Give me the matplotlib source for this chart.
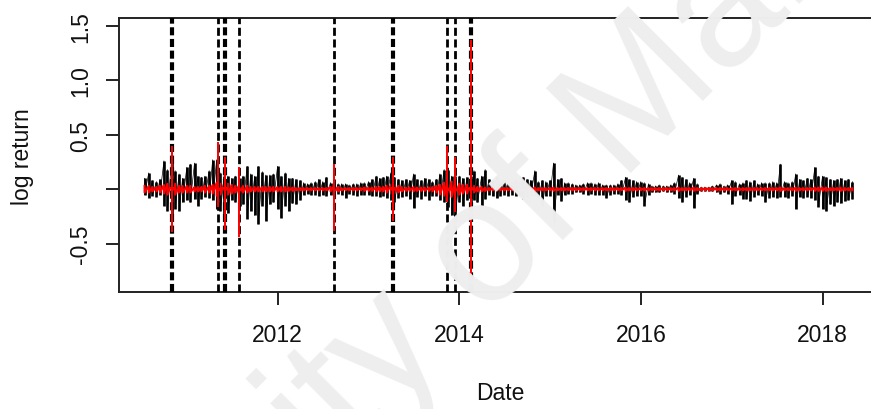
import numpy as np
import pandas as pd
import matplotlib
matplotlib.use("Agg")
import matplotlib.pyplot as plt

# ---------------- data ----------------
# semi-monthly bins of the daily log-return series: upper / lower extent per bin
bin_start = "2010-07-15"
bin_end = "2018-05-01"

blk_hi = [
    0.10, 0.15, 0.08, 0.07, 0.09, 0.26, 0.18, 0.27, 0.17, 0.14, 0.10,
    0.20, 0.23, 0.24, 0.12, 0.11, 0.12, 0.17, 0.27, 0.27, 0.15, 0.12, 0.12,
    0.10, 0.12, 0.10, 0.12, 0.21, 0.14, 0.12, 0.21, 0.16, 0.13, 0.13, 0.14,
    0.21, 0.12, 0.15, 0.10, 0.10, 0.09, 0.08, 0.06, 0.05, 0.06, 0.07, 0.09,
    0.07, 0.11, 0.06, 0.06, 0.05, 0.05, 0.05, 0.04, 0.05, 0.05, 0.06, 0.06,
    0.07, 0.09, 0.12, 0.10, 0.11, 0.12, 0.15, 0.11, 0.09, 0.08, 0.09, 0.08,
    0.14, 0.09, 0.08, 0.10, 0.09, 0.07, 0.09, 0.14, 0.18, 0.18, 0.12, 0.12,
    0.12, 0.10, 0.11, 0.12, 0.17, 0.10, 0.12, 0.18, 0.09, 0.08, 0.11, 0.07,
    0.08, 0.06, 0.07, 0.08, 0.07, 0.11, 0.09, 0.08, 0.17, 0.07, 0.08, 0.07,
    0.08, 0.24, 0.09, 0.10, 0.06, 0.06, 0.05, 0.04, 0.04, 0.05, 0.06, 0.06,
    0.05, 0.06, 0.04, 0.04, 0.04, 0.04, 0.05, 0.08, 0.11, 0.09, 0.08, 0.07,
    0.07, 0.06, 0.05, 0.03, 0.03, 0.04, 0.03, 0.03, 0.04, 0.06, 0.13, 0.11,
    0.09, 0.06, 0.10, 0.05, 0.02, 0.02, 0.02, 0.03, 0.04, 0.05, 0.03, 0.04,
    0.08, 0.07, 0.05, 0.06, 0.08, 0.07, 0.08, 0.05, 0.06, 0.06, 0.06, 0.07,
    0.06, 0.23, 0.07, 0.06, 0.07, 0.14, 0.09, 0.08, 0.10, 0.09, 0.20, 0.12,
    0.12, 0.11, 0.09, 0.08, 0.09, 0.10, 0.08, 0.09, 0.07,
]
blk_lo = [
    -0.05, -0.08, -0.06, -0.07, -0.05, -0.15, -0.20, -0.27, -0.18, -0.20, -0.12,
    -0.10, -0.12, -0.09, -0.15, -0.09, -0.07, -0.08, -0.10, -0.18, -0.20, -0.27, -0.22,
    -0.10, -0.12, -0.15, -0.14, -0.27, -0.20, -0.24, -0.32, -0.15, -0.29, -0.14, -0.12,
    -0.18, -0.26, -0.15, -0.20, -0.13, -0.14, -0.10, -0.05, -0.04, -0.05, -0.05, -0.06,
    -0.05, -0.06, -0.05, -0.05, -0.04, -0.05, -0.08, -0.04, -0.05, -0.06, -0.05, -0.05,
    -0.05, -0.06, -0.06, -0.07, -0.06, -0.08, -0.10, -0.12, -0.08, -0.07, -0.06, -0.09,
    -0.17, -0.07, -0.09, -0.06, -0.10, -0.06, -0.06, -0.10, -0.12, -0.16, -0.24, -0.27,
    -0.12, -0.15, -0.10, -0.20, -0.10, -0.12, -0.15, -0.09, -0.05, -0.06, -0.08, -0.06,
    -0.05, -0.06, -0.05, -0.06, -0.05, -0.09, -0.07, -0.06, -0.06, -0.08, -0.15, -0.06,
    -0.06, -0.30, -0.05, -0.11, -0.05, -0.04, -0.04, -0.03, -0.03, -0.04, -0.05, -0.04,
    -0.05, -0.05, -0.05, -0.08, -0.05, -0.04, -0.04, -0.05, -0.10, -0.12, -0.07, -0.06,
    -0.06, -0.15, -0.05, -0.03, -0.03, -0.03, -0.02, -0.03, -0.03, -0.04, -0.08, -0.12,
    -0.07, -0.05, -0.17, -0.04, -0.02, -0.02, -0.02, -0.02, -0.03, -0.04, -0.03, -0.04,
    -0.14, -0.06, -0.05, -0.09, -0.09, -0.11, -0.07, -0.05, -0.06, -0.12, -0.08, -0.07,
    -0.08, -0.07, -0.07, -0.08, -0.06, -0.18, -0.07, -0.08, -0.07, -0.08, -0.10, -0.16,
    -0.18, -0.20, -0.14, -0.15, -0.12, -0.13, -0.11, -0.10, -0.09,
]

# fitted (red) series: extent per bin
red_hi = [
    0.03, 0.03, 0.02, 0.02, 0.03, 0.04, 0.05, 0.06, 0.05, 0.03, 0.03,
    0.03, 0.03, 0.02, 0.02, 0.02, 0.03, 0.03, 0.04, 0.06, 0.05, 0.06, 0.05,
    0.04, 0.03, 0.04, 0.03, 0.03, 0.02, 0.02, 0.02, 0.02, 0.02, 0.02, 0.02,
    0.02, 0.02, 0.02, 0.015, 0.015, 0.01, 0.01, 0.01, 0.01, 0.01, 0.01, 0.01,
    0.01, 0.01, 0.02, 0.03, 0.02, 0.01, 0.01, 0.01, 0.01, 0.01, 0.01, 0.015,
    0.015, 0.015, 0.02, 0.02, 0.02, 0.03, 0.04, 0.04, 0.03, 0.02, 0.015, 0.015,
    0.02, 0.015, 0.015, 0.015, 0.015, 0.02, 0.03, 0.04, 0.06, 0.07, 0.07, 0.06,
    0.05, 0.04, 0.04, 0.04, 0.03, 0.02, 0.02, 0.015, 0.01, 0.01, 0.01, 0.01,
    0.01, 0.01, 0.01, 0.01, 0.01, 0.01, 0.01, 0.01, 0.015, 0.01, 0.01, 0.01,
    0.01, 0.015, 0.01, 0.01, 0.01, 0.01, 0.01, 0.01, 0.01, 0.01, 0.01, 0.01,
    0.01, 0.01, 0.01, 0.01, 0.01, 0.01, 0.01, 0.01, 0.015, 0.01, 0.01, 0.01,
    0.01, 0.01, 0.01, 0.01, 0.01, 0.01, 0.01, 0.01, 0.01, 0.01, 0.015, 0.01,
    0.01, 0.01, 0.015, 0.01, 0.01, 0.01, 0.01, 0.01, 0.01, 0.01, 0.01, 0.01,
    0.01, 0.01, 0.01, 0.01, 0.01, 0.01, 0.01, 0.01, 0.01, 0.01, 0.01, 0.01,
    0.01, 0.015, 0.01, 0.01, 0.01, 0.015, 0.01, 0.01, 0.01, 0.01, 0.015, 0.015,
    0.015, 0.015, 0.01, 0.01, 0.01, 0.015, 0.01, 0.01, 0.01,
]
red_lo = [
    -0.03, -0.03, -0.02, -0.02, -0.03, -0.04, -0.05, -0.06, -0.05, -0.03, -0.03,
    -0.03, -0.03, -0.02, -0.02, -0.02, -0.03, -0.03, -0.04, -0.06, -0.05, -0.06, -0.05,
    -0.04, -0.03, -0.04, -0.03, -0.03, -0.02, -0.02, -0.02, -0.02, -0.02, -0.02, -0.02,
    -0.02, -0.02, -0.02, -0.015, -0.015, -0.01, -0.01, -0.01, -0.01, -0.01, -0.01, -0.01,
    -0.01, -0.01, -0.02, -0.03, -0.02, -0.01, -0.01, -0.01, -0.01, -0.01, -0.01, -0.015,
    -0.015, -0.015, -0.02, -0.02, -0.02, -0.03, -0.04, -0.04, -0.03, -0.02, -0.015, -0.015,
    -0.02, -0.015, -0.015, -0.015, -0.015, -0.02, -0.03, -0.05, -0.06, -0.07, -0.07, -0.06,
    -0.05, -0.04, -0.04, -0.04, -0.03, -0.02, -0.02, -0.015, -0.01, -0.01, -0.01, -0.01,
    -0.01, -0.01, -0.01, -0.01, -0.01, -0.01, -0.01, -0.01, -0.015, -0.01, -0.01, -0.01,
    -0.01, -0.015, -0.01, -0.01, -0.01, -0.01, -0.01, -0.01, -0.01, -0.01, -0.01, -0.01,
    -0.01, -0.01, -0.01, -0.01, -0.01, -0.01, -0.01, -0.01, -0.015, -0.01, -0.01, -0.01,
    -0.01, -0.01, -0.01, -0.01, -0.01, -0.01, -0.01, -0.01, -0.01, -0.01, -0.015, -0.01,
    -0.01, -0.01, -0.015, -0.01, -0.01, -0.01, -0.01, -0.01, -0.01, -0.01, -0.01, -0.01,
    -0.01, -0.01, -0.01, -0.01, -0.01, -0.01, -0.01, -0.01, -0.01, -0.01, -0.01, -0.01,
    -0.01, -0.015, -0.01, -0.01, -0.01, -0.015, -0.01, -0.01, -0.01, -0.01, -0.015, -0.015,
    -0.015, -0.015, -0.01, -0.01, -0.01, -0.015, -0.01, -0.01, -0.01,
]

# detected change points and the red spikes at them
cp_dates = ["2010-11-01", "2011-05-08", "2011-06-04", "2011-07-30", "2012-08-13",
            "2013-04-10", "2013-11-13", "2013-12-13", "2014-02-18"]
cp_hi = [0.40, 0.43, 0.30, 0.20, 0.23, 0.30, 0.40, 0.30, 1.37]
cp_lo = [-0.39, -0.16, -0.37, -0.44, -0.38, -0.29, -0.12, -0.21, -0.85]

x_ticks = ["2012-01-01", "2014-01-01", "2016-01-01", "2018-01-01"]
x_ticklabels = ["2012", "2014", "2016", "2018"]
y_ticks = [-0.5, 0.0, 0.5, 1.0, 1.5]
y_ticklabels = ["-0.5", "", "0.5", "1.0", "1.5"]

# ---------------- styling ----------------
plt.rcParams["font.family"] = ["Liberation Sans", "DejaVu Sans"]
W, H = 871, 410
fig = plt.figure(figsize=(W / 100, H / 100), dpi=100)
fig.patch.set_facecolor("white")

# watermark (faint, behind everything)
fig.text(432 / W, 1 - 308 / H, "University of Malaya", rotation=45,
         fontsize=125, color="#eeeeee", ha="center", va="center",
         rotation_mode="anchor", zorder=0)

left, right, top, bottom = 118.7, 880.0, 19.0, 293.3
ax = fig.add_axes([left / W, (H - bottom) / H, (right - left) / W, (bottom - top) / H])
ax.patch.set_alpha(0)

dates = pd.date_range(bin_start, bin_end, freq="SMS")
ax.vlines(dates, blk_lo, blk_hi, color="black", lw=1.9, zorder=2)
ax.plot(np.repeat(dates.values, 2), np.column_stack([blk_hi, blk_lo]).ravel(),
        color="black", lw=0.5, zorder=2)
ax.plot(np.repeat(dates.values, 2), np.column_stack([red_hi, red_lo]).ravel(),
        color="red", lw=1.5, zorder=3)

cp = pd.to_datetime(cp_dates)
cp_lw = [3.0, 2.0, 3.0, 2.0, 2.0, 3.0, 2.0, 2.0, 3.0]
for d, w in zip(cp, cp_lw):
    ax.axvline(d, color="black", lw=w, linestyle=(0, (5.8 / w, 2.6 / w)),
               dash_capstyle="butt", zorder=4)
ax.vlines(cp, cp_lo, cp_hi, color="red", lw=1.4, zorder=5)

ax.set_xlim(pd.Timestamp("2010-04-02"), pd.Timestamp("2018-08-20"))
ax.set_ylim(-0.946, 1.571)

ax.set_xticks(pd.to_datetime(x_ticks))
ax.set_xticklabels(x_ticklabels)
ax.set_yticks(y_ticks)
ax.set_yticklabels(y_ticklabels)
ax.tick_params(axis="both", direction="out", length=9.6, width=1.3,
               labelsize=16.5, colors="#111111")
ax.tick_params(axis="x", pad=12.5)
ax.tick_params(axis="y", pad=9.4)
for lab in ax.get_yticklabels():
    lab.set_rotation(90)
    lab.set_va("center")
    lab.set_ha("right")

for s in ax.spines.values():
    s.set_linewidth(1.4)
    s.set_color("#222222")

fig.text(22.5 / W, 1 - 156.5 / H, "log return", rotation=90, ha="center",
         va="center", fontsize=16.5, color="#111111")
fig.text(500 / W, 1 - 394 / H, "Date", ha="center", va="center",
         fontsize=16.5, color="#111111")

fig.savefig("out.png", dpi=100)
